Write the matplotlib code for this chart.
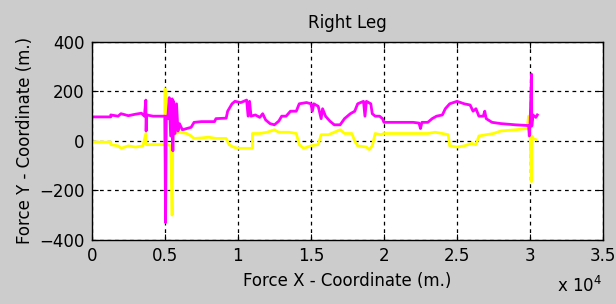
import numpy as np
import matplotlib
matplotlib.use('Agg')
import matplotlib.pyplot as plt

# x values read in units of 1e4
mag_x = [0, 0.13, 0.13, 0.18, 0.2, 0.25, 0.3, 0.34, 0.36, 0.37, 0.372, 0.375, 0.42, 0.5, 0.505, 0.51,
         0.52, 0.53, 0.54, 0.55, 0.555, 0.56, 0.57, 0.58, 0.59, 0.6, 0.62, 0.65, 0.68, 0.7, 0.75, 0.84,
         0.85, 0.92, 0.93, 0.96, 0.98, 1.02, 1.06, 1.07, 1.08, 1.09, 1.12, 1.15, 1.17, 1.19, 1.22, 1.25,
         1.28, 1.3, 1.33, 1.36, 1.4, 1.42, 1.47, 1.5, 1.51, 1.52, 1.55, 1.57, 1.58, 1.6, 1.63, 1.66,
         1.7, 1.73, 1.77, 1.8, 1.82, 1.86, 1.87, 1.88, 1.91, 1.92, 1.94, 1.97, 1.99, 2.0, 2.1, 2.2,
         2.24, 2.25, 2.26, 2.3, 2.33, 2.36, 2.4, 2.42, 2.45, 2.5, 2.55, 2.59, 2.61, 2.63, 2.65, 2.68,
         2.69, 2.7, 2.74, 2.8, 2.9, 2.99, 2.995, 3.0, 3.01, 3.012, 3.02, 3.04, 3.05]
mag_y = [97, 97, 105, 100, 110, 102, 108, 112, 100, 165, 40, 105, 100, 100, -330, 100,
         90, 175, 20, 170, -40, 160, 30, 150, 40, 70, 45, 50, 55, 75, 78, 78,
         90, 92, 120, 150, 160, 155, 165, 100, 160, 100, 105, 95, 110, 85, 70, 65,
         80, 100, 100, 120, 120, 150, 155, 150, 120, 150, 140, 90, 130, 100, 80, 65,
         65, 90, 110, 120, 150, 160, 100, 160, 150, 110, 100, 100, 90, 75, 75, 75,
         72, 50, 75, 75, 90, 100, 105, 130, 150, 160, 150, 145, 120, 130, 100, 100,
         120, 90, 75, 70, 65, 62, 20, 60, 270, 60, 105, 95, 105]

yel_x = [0, 0.13, 0.13, 0.18, 0.2, 0.25, 0.3, 0.35, 0.37, 0.372, 0.4, 0.5, 0.502, 0.504, 0.52, 0.54,
         0.55, 0.555, 0.57, 0.6, 0.65, 0.68, 0.7, 0.75, 0.8, 0.85, 0.92, 0.94, 0.97, 1.0, 1.08, 1.1,
         1.1, 1.15, 1.2, 1.25, 1.28, 1.35, 1.4, 1.42, 1.45, 1.5, 1.55, 1.57, 1.62, 1.66, 1.7, 1.73,
         1.78, 1.8, 1.82, 1.88, 1.9, 1.92, 1.94, 1.98, 2.0, 2.1, 2.2, 2.3, 2.35, 2.4, 2.44, 2.45,
         2.5, 2.55, 2.6, 2.63, 2.65, 2.7, 2.75, 2.8, 2.9, 2.98, 2.99, 3.0, 3.01, 3.012, 3.02, 3.04]
yel_y = [-5, -5, -15, -20, -30, -20, -25, -20, 30, -15, -15, -15, 210, -10, -15, -20,
         -300, 20, 30, 35, 30, 20, 10, 12, 15, 10, 10, -15, -25, -30, -30, -30,
         30, 30, 35, 45, 35, 35, 30, -15, -30, -20, -15, 25, 25, 35, 45, 30,
         30, 0, -20, -25, -35, -20, 30, 25, 30, 30, 30, 30, 35, 30, 25, -20,
         -25, -20, -10, -15, 20, 25, 30, 40, 45, 50, 100, 40, -165, 20, 10, 5]

xticks = [0, 0.5, 1, 1.5, 2, 2.5, 3, 3.5]
xtick_labels = ['0', '0.5', '1', '1.5', '2', '2.5', '3', '3.5']
yticks = [-400, -200, 0, 200, 400]

plt.rcParams['font.family'] = ['DejaVu Sans']
fig = plt.figure(figsize=(6.16, 3.04), dpi=100, facecolor='#cccccc')
ax = fig.add_axes([0.149, 0.211, 0.830, 0.651])

ax.plot(np.array(yel_x) * 1e4, yel_y, color='#ffff00', lw=2)
ax.plot(np.array(mag_x) * 1e4, mag_y, color='#ff00ff', lw=2)

ax.set_xlim(0, 35000)
ax.set_ylim(-400, 400)
ax.set_xticks(np.array(xticks) * 1e4)
ax.set_xticklabels(xtick_labels)
ax.set_yticks(yticks)
ax.tick_params(direction='in', top=True, right=True, labelsize=12, length=4, colors='black', pad=5)
ax.grid(True, color='black', linestyle=(0, (3, 3)), linewidth=0.9)
for s in ax.spines.values():
    s.set_linewidth(1.0)

ax.set_title('Right Leg', fontsize=12, pad=10)
ax.set_xlabel('Force X - Coordinate (m.)', fontsize=12, labelpad=5)
ax.set_ylabel('Force Y - Coordinate (m.)', fontsize=12, labelpad=4)
fig.text(0.905, 0.025, r'x 10$^4$', fontsize=12, va='bottom')

fig.savefig('out.png', dpi=100, facecolor=fig.get_facecolor())
